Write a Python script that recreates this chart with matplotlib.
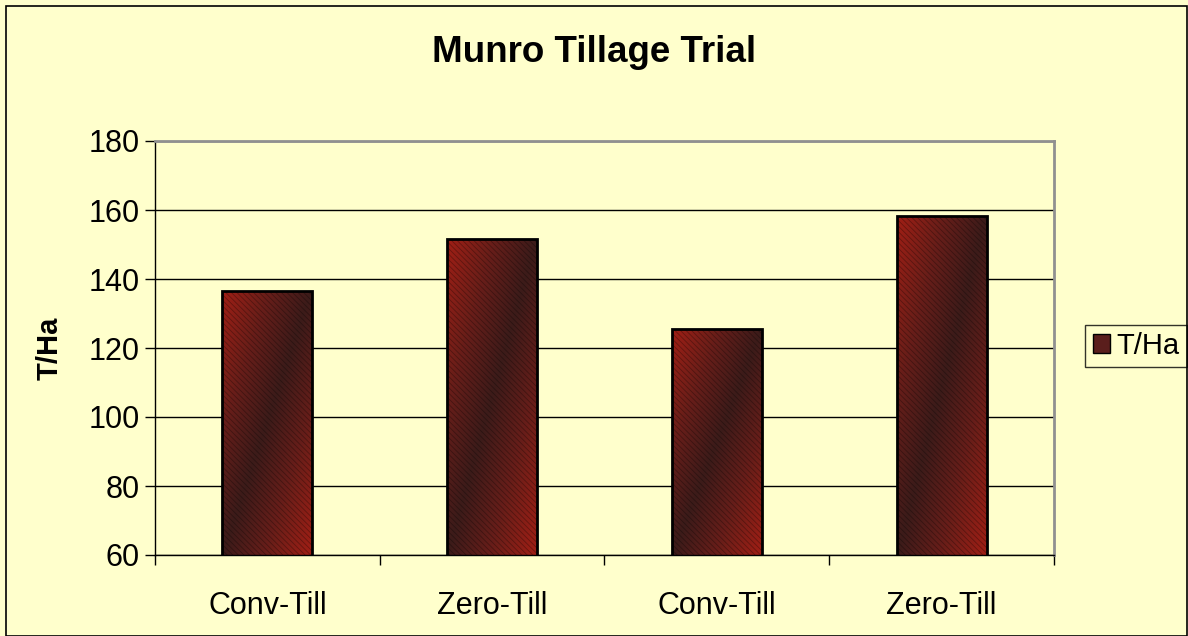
import numpy as np
import matplotlib
matplotlib.use("Agg")
import matplotlib.pyplot as plt
from matplotlib.patches import Rectangle, Patch
from matplotlib.colors import LinearSegmentedColormap

plt.rcParams['font.family'] = ['Liberation Sans', 'DejaVu Sans']
plt.rcParams['hatch.linewidth'] = 0.6

categories = ["Conv-Till", "Zero-Till", "Conv-Till", "Zero-Till"]
values = [136.6, 151.5, 125.5, 158.3]
series_name = "T/Ha"
title = "Munro Tillage Trial"
yticks = [60, 80, 100, 120, 140, 160, 180]

bg = "#FFFFCC"
W, H = 1188, 636
fig = plt.figure(figsize=(W / 100, H / 100), dpi=100, facecolor=bg)
fig.patches.append(Rectangle((6 / W, 0.5 / H), 1 - 6 / W - 1 / W, 1 - 6 / H - 0.5 / H,
                             transform=fig.transFigure, fill=False,
                             edgecolor="black", linewidth=1.2, zorder=10))

ax = fig.add_axes([155 / W, 1 - 555 / H, (1054 - 155) / W, (555 - 141) / H])
ax.set_facecolor(bg)

x = np.arange(len(categories))
bars = ax.bar(x, values, width=0.40, facecolor="none", edgecolor="black",
              linewidth=2, zorder=4)

cmap = LinearSegmentedColormap.from_list(
    "bar", ["#a01f15", "#6a1e19", "#3c1b1a", "#6a1e19", "#a01f15"])
ny, nx = 200, 60
u = np.linspace(0, 1, nx)[None, :]
v = np.linspace(0, 1, ny)[:, None]
grad = (u + v) / 2
for b in bars:
    x0, w, h = b.get_x(), b.get_width(), b.get_height()
    im = ax.imshow(grad, cmap=cmap, vmin=0, vmax=1, aspect="auto",
                   extent=(x0, x0 + w, 60, h), origin="upper", zorder=2,
                   interpolation="bilinear")
    im.set_clip_path(b)
    hp = Rectangle((x0, 60), w, h - 60, facecolor="none",
                   edgecolor=(0, 0, 0, 0.3), hatch="\\\\\\\\\\\\", linewidth=0, zorder=3)
    ax.add_patch(hp)

ax.set_xlim(-0.5, len(categories) - 0.5)
ax.set_ylim(60, 180)
ax.set_yticks(yticks)
ax.set_xticks(x)
ax.set_xticklabels(categories)
ax.set_xticks(np.arange(len(categories) + 1) - 0.5, minor=True)
ax.tick_params(axis="x", which="major", length=0, labelsize=22, pad=26)
ax.tick_params(axis="x", which="minor", length=7, width=1, direction="out")
ax.tick_params(axis="y", length=7, width=1, direction="out", labelsize=22, pad=4)
ax.yaxis.grid(True, color="black", linewidth=1)
ax.set_axisbelow(True)

for s in ["top", "right"]:
    ax.spines[s].set_color("#909090")
    ax.spines[s].set_linewidth(2)
for s in ["left", "bottom"]:
    ax.spines[s].set_color("black")
    ax.spines[s].set_linewidth(1)

ax.set_ylabel(series_name, fontsize=21, fontweight="bold", labelpad=18)
fig.text(0.5, 1 - 53 / H, title, ha="center", va="center",
         fontsize=26.5, fontweight="bold")

leg = fig.legend(handles=[Patch(facecolor="#5a1e1c", edgecolor="black")],
                 labels=[series_name], loc="center",
                 bbox_to_anchor=(1136 / W, 1 - 346 / H),
                 fontsize=21, frameon=True, fancybox=False,
                 handlelength=0.6, handleheight=0.6, handletextpad=0.2,
                 borderpad=0.25, borderaxespad=0)
leg.get_frame().set_edgecolor("black")
leg.get_frame().set_facecolor(bg)
leg.get_frame().set_linewidth(1)

fig.savefig("out.png", dpi=100, facecolor=bg)
